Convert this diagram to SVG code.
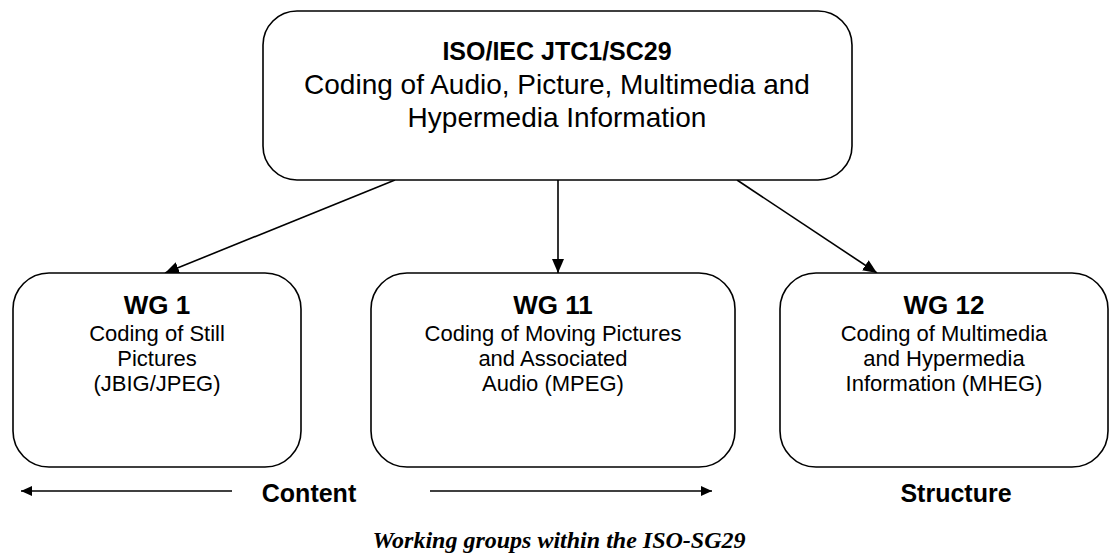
<svg xmlns="http://www.w3.org/2000/svg" width="1118" height="560" viewBox="0 0 1118 560">
<style>
.box{fill:#fff;stroke:#000;stroke-width:1.6}
.ln{stroke:#000;stroke-width:1.6;fill:none}
text{font-family:"Liberation Sans",Arial,sans-serif;fill:#000;text-anchor:middle}
.b{font-weight:bold}
.cap{font-family:"Liberation Serif","Times New Roman",serif;font-weight:bold;font-style:italic}
</style>
<defs>
<marker id="ah" viewBox="0 0 14 12" refX="14" refY="6" markerWidth="14" markerHeight="12" markerUnits="userSpaceOnUse" orient="auto">
<path d="M0,0 L14,6 L0,12 z" fill="#000"/>
</marker>
<marker id="ahs" viewBox="0 0 11 10" refX="11" refY="5" markerWidth="11" markerHeight="10" markerUnits="userSpaceOnUse" orient="auto">
<path d="M0,0 L11,5 L0,10 z" fill="#000"/>
</marker>
</defs>
<g id="connectors">
<line class="ln" x1="395" y1="180" x2="165" y2="273" marker-end="url(#ah)"/>
<line class="ln" x1="558" y1="180" x2="558" y2="273" marker-end="url(#ah)"/>
<line class="ln" x1="737" y1="180" x2="877" y2="273" marker-end="url(#ah)"/>
<line class="ln" x1="232" y1="491" x2="21" y2="491" marker-end="url(#ahs)"/>
<line class="ln" x1="430" y1="491" x2="712" y2="491" marker-end="url(#ahs)"/>
</g>
<g id="sc29">
<rect class="box" x="263" y="11" width="589" height="169" rx="34" ry="34"/>
<text class="b" x="557" y="60" font-size="25">ISO/IEC JTC1/SC29</text>
<text x="557" y="94" font-size="28">Coding of Audio, Picture, Multimedia and</text>
<text x="557" y="127" font-size="28">Hypermedia Information</text>
</g>
<g id="wg1">
<rect class="box" x="13" y="273" width="288" height="194" rx="36" ry="36"/>
<text class="b" x="157" y="314" font-size="26">WG 1</text>
<text x="157" y="341" font-size="22">Coding of Still</text>
<text x="157" y="366" font-size="22">Pictures</text>
<text x="157" y="391" font-size="22">(JBIG/JPEG)</text>
</g>
<g id="wg11">
<rect class="box" x="371" y="273" width="364" height="194" rx="36" ry="36"/>
<text class="b" x="553" y="314" font-size="26">WG 11</text>
<text x="553" y="341" font-size="22">Coding of Moving Pictures</text>
<text x="553" y="366" font-size="22">and Associated</text>
<text x="553" y="391" font-size="22">Audio (MPEG)</text>
</g>
<g id="wg12">
<rect class="box" x="780" y="273" width="328" height="194" rx="36" ry="36"/>
<text class="b" x="944" y="314" font-size="26">WG 12</text>
<text x="944" y="341" font-size="22">Coding of Multimedia</text>
<text x="944" y="366" font-size="22">and Hypermedia</text>
<text x="944" y="391" font-size="22">Information (MHEG)</text>
</g>
<g id="labels">
<text class="b" x="309" y="502" font-size="25">Content</text>
<text class="b" x="956" y="502" font-size="25">Structure</text>
<text class="cap" x="559" y="548" font-size="24">Working groups within the ISO-SG29</text>
</g>
</svg>
